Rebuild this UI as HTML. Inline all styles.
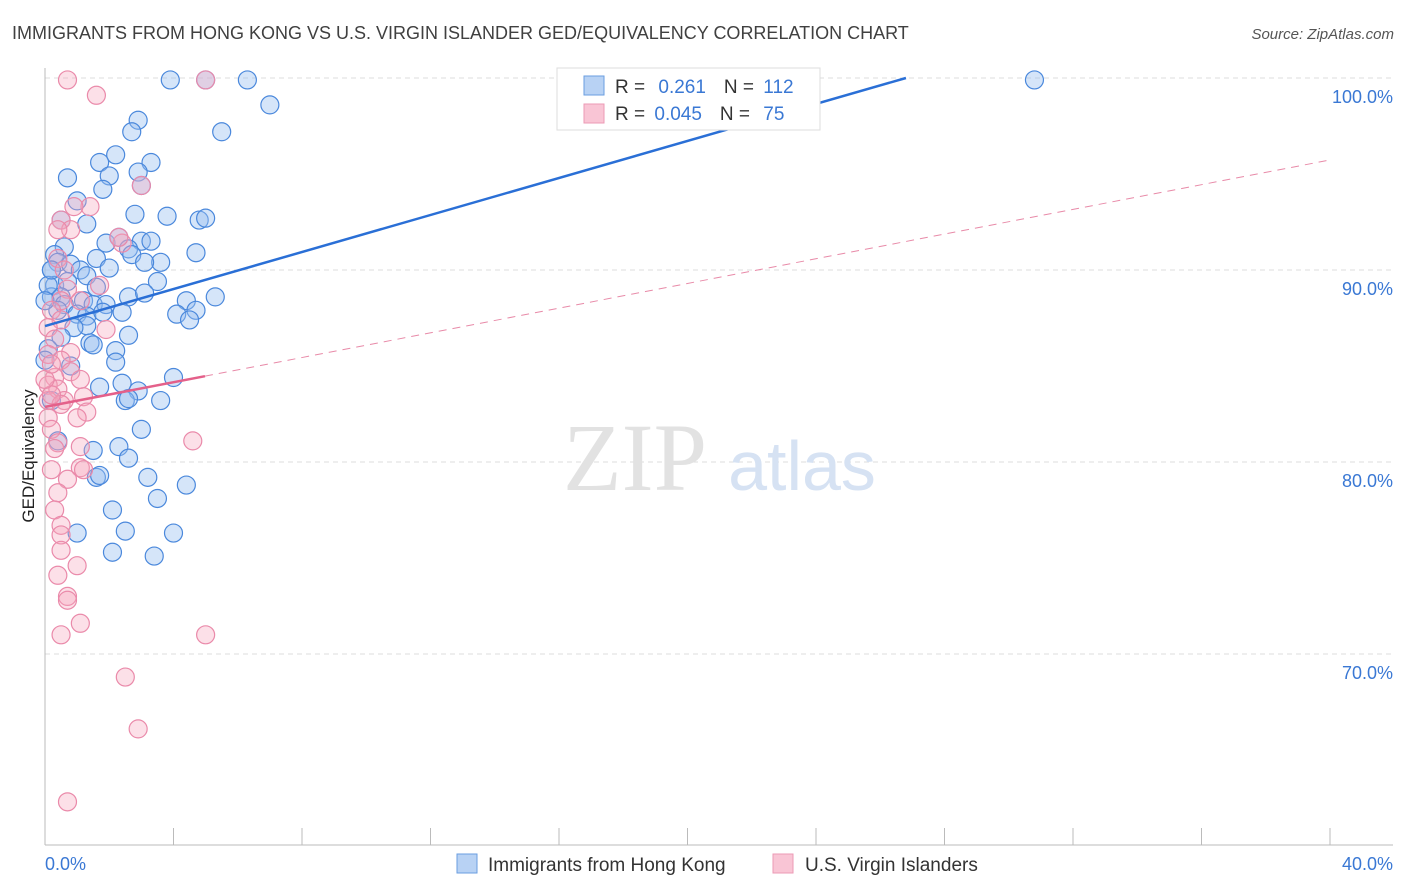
<!DOCTYPE html>
<html><head><meta charset="utf-8"><style>
body{margin:0;background:#fff;font-family:"Liberation Sans",sans-serif;}
svg{display:block}
</style></head><body>
<svg id="c" width="1406" height="892">
<text x="12" y="39" font-size="18" fill="#404040">IMMIGRANTS FROM HONG KONG VS U.S. VIRGIN ISLANDER GED/EQUIVALENCY CORRELATION CHART</text>
<text x="1394" y="39" font-size="15" fill="#555" font-style="italic" text-anchor="end">Source: ZipAtlas.com</text>
<g id="grid"></g>
<text x="635" y="490" font-size="96" fill="#e2e2e2" font-family="Liberation Serif,serif" text-anchor="middle">ZIP</text>
<text x="802" y="490" font-size="70" fill="#d6e2f3" text-anchor="middle">atlas</text>
<g id="pts"></g>
<g id="lines"></g>
<text transform="translate(34,456) rotate(-90)" font-size="17" fill="#222" text-anchor="middle">GED/Equivalency</text>
<g>
<rect x="557" y="68" width="263" height="62" fill="#fff" stroke="#ddd"/>
<rect x="584" y="76" width="20" height="19" fill="#b8d2f4" stroke="#6a9ee0"/>
<rect x="584" y="104" width="20" height="19" fill="#f9c5d5" stroke="#ec9ab5"/>
<text x="615" y="93" font-size="19" fill="#333">R = <tspan fill="#3a78d4" dx="8">0.261</tspan><tspan dx="18" fill="#333">N = </tspan><tspan fill="#3a78d4" dx="4">112</tspan></text>
<text x="615" y="120" font-size="19" fill="#333">R = <tspan fill="#3a78d4" dx="4">0.045</tspan><tspan dx="18" fill="#333">N = </tspan><tspan fill="#3a78d4" dx="8">75</tspan></text>
</g>
<g>
<rect x="457" y="854" width="20" height="19" fill="#b8d2f4" stroke="#6a9ee0"/>
<text x="488" y="871" font-size="19" fill="#333">Immigrants from Hong Kong</text>
<rect x="773" y="854" width="20" height="19" fill="#f9c5d5" stroke="#ec9ab5"/>
<text x="805" y="871" font-size="19" fill="#333">U.S. Virgin Islanders</text>
</g>
</svg>
<script>
const xTicks=[0,40];
const yTicks=[100,90,80,70];
const blueX=[3.9,5.0,6.3,30.8,7.0,5.5,2.9,2.7,2.2,1.7,3.3,0.7,2.0,2.9,1.8,3.0,1.0,0.5,1.3,2.8,3.8,4.8,5.0,0.6,1.9,2.3,3.0,3.3,4.7,0.3,2.6,2.7,3.6,3.1,0.4,0.8,1.6,0.2,1.1,2.0,1.3,3.5,0.3,0.7,1.6,4.4,5.3,2.6,3.1,0.2,0.5,1.2,1.5,0.6,1.9,4.1,4.7,4.5,2.4,1.0,1.3,1.8,0.4,1.3,0.9,2.6,0.5,1.4,1.5,2.2,2.2,0.1,0.8,4.0,2.4,1.7,2.9,2.5,2.6,3.6,3.0,2.3,2.6,1.5,3.2,1.6,1.7,3.5,4.4,2.1,2.5,4.0,2.1,3.4,1.0,0.4,0.2,0.0,0.1,0.2,0.0];
const blueY=[99.9,99.9,99.9,99.9,98.6,97.2,97.8,97.2,96.0,95.6,95.6,94.8,94.9,95.1,94.2,94.4,93.6,92.6,92.4,92.9,92.8,92.6,92.7,91.2,91.4,91.7,91.5,91.5,90.9,90.8,91.1,90.8,90.4,90.4,90.4,90.3,90.6,90.0,90.0,90.1,89.7,89.4,89.2,89.4,89.1,88.4,88.6,88.6,88.8,88.6,88.6,88.4,88.2,88.2,88.2,87.7,87.9,87.4,87.8,87.7,87.6,87.8,87.9,87.1,87.0,86.6,86.5,86.2,86.1,85.8,85.2,85.9,85.0,84.4,84.1,83.9,83.7,83.2,83.3,83.2,81.7,80.8,80.2,80.6,79.2,79.2,79.3,78.1,78.8,77.5,76.4,76.3,75.3,75.1,76.3,81.1,83.2,85.3,89.2,90.0,88.4];
const pinkX=[0.7,5.0,1.6,3.0,1.4,0.9,0.5,0.8,0.4,2.4,2.3,0.4,0.6,1.7,0.7,0.5,1.1,0.2,0.5,1.9,0.1,0.3,0.8,0.1,0.5,0.8,0.3,1.1,0.1,0.4,1.2,0.6,0.1,0.5,1.3,1.0,0.1,0.2,4.6,0.4,0.3,1.1,0.2,1.1,1.2,0.7,0.4,0.3,0.5,0.5,0.5,1.0,0.4,0.7,0.7,1.1,0.5,5.0,2.5,2.9,0.7,0.2,0.0,0.2];
const pinkY=[99.9,99.9,99.1,94.4,93.3,93.3,92.6,92.1,92.1,91.4,91.7,90.6,90.0,89.2,89.0,88.4,88.4,87.9,87.4,86.9,87.0,86.4,85.7,85.6,85.3,84.7,84.4,84.3,84.0,83.8,83.4,83.2,83.2,83.0,82.6,82.3,82.3,81.7,81.1,81.0,80.7,80.8,79.6,79.7,79.6,79.1,78.4,77.5,76.7,76.2,75.4,74.6,74.1,73.0,72.8,71.6,71.0,71.0,68.8,66.1,62.3,83.5,84.3,85.1];
const blueTrend=[[0,87.08],[26.8,100]];
const pinkTrend=[[0,82.87],[4.98,84.47]];
const pinkDash=[[4.98,84.47],[40,95.73]];

const NS="http://www.w3.org/2000/svg";
const X0=45,X1=1330,Y100=78,PX1=19.2;
const sx=v=>X0+(v/40)*(X1-X0);
const sy=v=>Y100+(100-v)*PX1;
function mk(tag,attrs,parent){const e=document.createElementNS(NS,tag);for(const k in attrs)e.setAttribute(k,attrs[k]);parent.appendChild(e);return e;}
const grid=document.getElementById('grid');
yTicks.forEach(t=>{
  const l=mk('line',{x1:X0,x2:1393,y1:sy(t),y2:sy(t),stroke:'#dcdcdc','stroke-dasharray':'5,4'},grid);
  
  
  const tx=mk('text',{x:1393,y:sy(t)+25,'font-size':18,fill:'#3a78d4','text-anchor':'end'},grid);
  tx.textContent=t.toFixed(1)+'%';
  
  
});
const ax=mk('line',{x1:X0,x2:X0,y1:68,y2:845,stroke:'#bbb'},grid);


const bx=mk('line',{x1:X0,x2:1393,y1:845,y2:845,stroke:'#bbb'},grid);


for(let i=0;i<=10;i++){const t=mk('line',{x1:sx(i*4),x2:sx(i*4),y1:828,y2:845,stroke:'#bbb'},grid);
  
  }
xTicks.forEach((t,i)=>{const tx=mk('text',{x:i==0?45:1393,y:870,'font-size':18,fill:'#3a78d4','text-anchor':i==0?'start':'end'},grid);
  tx.textContent=t.toFixed(1)+'%';
  
  });
const pts=document.getElementById('pts');
blueX.forEach((v,i)=>{const c=mk('circle',{cx:sx(v),cy:sy(blueY[i]),r:9,fill:'rgba(150,190,240,0.4)',stroke:'#4a88dc','stroke-width':1.2},pts);
  
  });
pinkX.forEach((v,i)=>{const c=mk('circle',{cx:sx(v),cy:sy(pinkY[i]),r:9,fill:'rgba(245,165,190,0.35)',stroke:'#ea8aaa','stroke-width':1.2},pts);
  
  });
const lines=document.getElementById('lines');
const l1=mk('line',{x1:sx(blueTrend[0][0]),y1:sy(blueTrend[0][1]),x2:sx(blueTrend[1][0]),y2:sy(blueTrend[1][1]),stroke:'#2a6fd6','stroke-width':2.5},lines);


const l2=mk('line',{x1:sx(pinkTrend[0][0]),y1:sy(pinkTrend[0][1]),x2:sx(pinkTrend[1][0]),y2:sy(pinkTrend[1][1]),stroke:'#e4608a','stroke-width':2.5},lines);


const l3=mk('line',{x1:sx(pinkDash[0][0]),y1:sy(pinkDash[0][1]),x2:sx(pinkDash[1][0]),y2:sy(pinkDash[1][1]),stroke:'#e88aa8','stroke-width':1,'stroke-dasharray':'8,6'},lines);


</script>
</body></html>
